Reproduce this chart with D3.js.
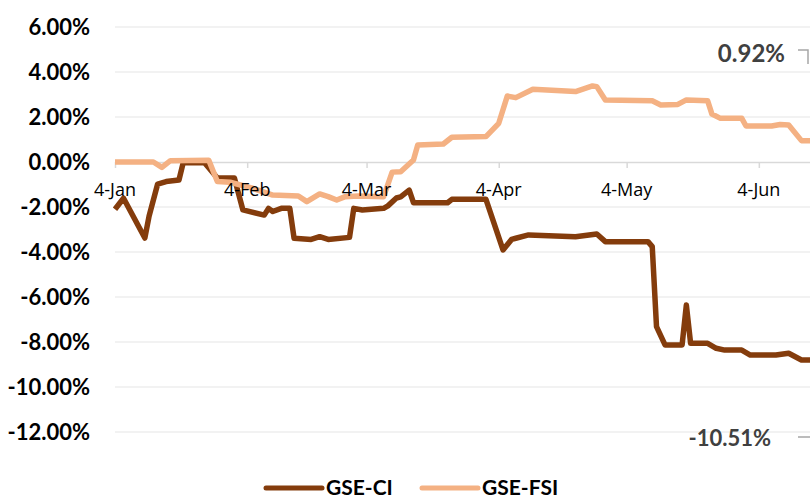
<!DOCTYPE html>
<html>
<head>
<meta charset="utf-8">
<script src="https://cdn.jsdelivr.net/npm/d3@7"></script>
<style>
  body { margin: 0; background: #fff; }
  svg { display: block; }
</style>
</head>
<body>
<svg id="chart" width="810" height="500"></svg>
<script>
// GSE-CI (year to date change, %)
const ciDates = ["2021-01-04","2021-01-06","2021-01-11","2021-01-12","2021-01-14","2021-01-16","2021-01-19","2021-01-20","2021-01-25","2021-01-28","2021-02-01","2021-02-03","2021-02-08","2021-02-09","2021-02-10","2021-02-12","2021-02-14","2021-02-15","2021-02-19","2021-02-21","2021-02-23","2021-02-28","2021-03-01","2021-03-03","2021-03-08","2021-03-09","2021-03-11","2021-03-12","2021-03-14","2021-03-15","2021-03-23","2021-03-24","2021-04-01","2021-04-05","2021-04-07","2021-04-08","2021-04-11","2021-04-22","2021-04-27","2021-04-29","2021-05-09","2021-05-10","2021-05-11","2021-05-13","2021-05-17","2021-05-18","2021-05-19","2021-05-23","2021-05-25","2021-05-27","2021-05-31","2021-06-02","2021-06-08","2021-06-11","2021-06-14","2021-06-16"];
const ciValues = [-2.10,-1.61,-3.38,-2.40,-0.98,-0.87,-0.80,-0.03,-0.03,-0.71,-0.71,-2.13,-2.36,-2.06,-2.20,-2.06,-2.06,-3.39,-3.44,-3.32,-3.44,-3.35,-2.06,-2.13,-2.06,-1.95,-1.60,-1.55,-1.25,-1.81,-1.81,-1.66,-1.66,-3.91,-3.44,-3.39,-3.24,-3.32,-3.20,-3.54,-3.54,-3.76,-7.32,-8.13,-8.13,-6.36,-8.06,-8.06,-8.28,-8.36,-8.36,-8.58,-8.58,-8.50,-8.80,-8.80];

// GSE-FSI
const fsiDates = ["2021-01-04","2021-01-13","2021-01-15","2021-01-17","2021-01-26","2021-01-28","2021-01-31","2021-02-05","2021-02-10","2021-02-16","2021-02-18","2021-02-21","2021-02-23","2021-02-25","2021-02-27","2021-03-02","2021-03-08","2021-03-10","2021-03-12","2021-03-15","2021-03-16","2021-03-22","2021-03-24","2021-04-01","2021-04-04","2021-04-06","2021-04-08","2021-04-12","2021-04-22","2021-04-26","2021-04-27","2021-04-29","2021-05-10","2021-05-12","2021-05-16","2021-05-18","2021-05-23","2021-05-24","2021-05-26","2021-05-31","2021-06-01","2021-06-07","2021-06-09","2021-06-11","2021-06-14","2021-06-16"];
const fsiValues = [0.00,0.00,-0.24,0.06,0.08,-0.87,-0.90,-1.15,-1.47,-1.51,-1.76,-1.42,-1.54,-1.69,-1.54,-1.51,-1.54,-0.45,-0.43,0.09,0.76,0.80,1.10,1.13,1.72,2.93,2.86,3.23,3.13,3.38,3.35,2.76,2.72,2.53,2.56,2.76,2.72,2.13,1.94,1.94,1.60,1.60,1.67,1.64,0.95,0.95];

const yTicks = [6, 4, 2, 0, -2, -4, -6, -8, -10, -12];
const xTickDates = ["2021-01-04","2021-02-04","2021-03-04","2021-04-04","2021-05-04","2021-06-04"];
const xTickLabels = ["4-Jan","4-Feb","4-Mar","4-Apr","4-May","4-Jun"];
const seriesNames = ["GSE-CI", "GSE-FSI"];
const endLabels = ["0.92%", "-10.51%"];

const colors = { ci: "#843C0C", fsi: "#F4B183" };
const parseDate = d3.timeParse("%Y-%m-%d");

const svg = d3.select("#chart");

const xScale = d3.scaleTime()
  .domain([parseDate("2021-01-04"), parseDate("2021-06-16")])
  .range([115, 810]);
const yScale = d3.scaleLinear().domain([-12, 6]).range([432, 27]);

// gridlines
svg.append("g")
  .selectAll("line")
  .data(yTicks.filter((d) => d !== 0))
  .join("line")
  .attr("x1", 115)
  .attr("x2", 810)
  .attr("y1", (d) => yScale(d))
  .attr("y2", (d) => yScale(d))
  .attr("stroke", "#eeeeee")
  .attr("stroke-width", 1.5);

// zero axis line with ticks
const xAxis = d3.axisBottom(xScale)
  .tickValues(xTickDates.map(parseDate))
  .tickFormat("")
  .tickSize(6)
  .tickSizeOuter(0);
const xAxisG = svg.append("g")
  .attr("transform", `translate(0, ${yScale(0)})`)
  .call(xAxis);
xAxisG.select(".domain").attr("stroke", "#d9d9d9").attr("stroke-width", 1.5);
xAxisG.selectAll(".tick line").attr("stroke", "#d9d9d9").attr("stroke-width", 1.5);

// y labels
svg.append("g")
  .selectAll("text")
  .data(yTicks)
  .join("text")
  .attr("x", 90)
  .attr("y", (d) => yScale(d) + 8)
  .attr("text-anchor", "end")
  .style("font-family", "Lato, sans-serif")
  .style("font-weight", "bold")
  .style("font-size", "22px")
  .style("fill", "#000")
  .text((d) => d.toFixed(2) + "%");

// lines
const line = d3.line()
  .x((d) => xScale(d.date))
  .y((d) => yScale(d.value));

const ciData = ciDates.map((d, i) => ({ date: parseDate(d), value: ciValues[i] }));
const fsiData = fsiDates.map((d, i) => ({ date: parseDate(d), value: fsiValues[i] }));

svg.append("path")
  .datum(ciData)
  .attr("fill", "none")
  .attr("stroke", colors.ci)
  .attr("stroke-width", 5.5)
  .attr("stroke-linejoin", "round")
  .attr("d", line);

svg.append("path")
  .datum(fsiData)
  .attr("fill", "none")
  .attr("stroke", colors.fsi)
  .attr("stroke-width", 5.5)
  .attr("stroke-linejoin", "round")
  .attr("d", line);

// x labels
svg.append("g")
  .selectAll("text")
  .data(xTickDates)
  .join("text")
  .attr("x", (d) => xScale(parseDate(d)))
  .attr("y", 196)
  .attr("text-anchor", "middle")
  .style("font-family", "'Open Sans', sans-serif")
  .style("font-size", "18px")
  .style("fill", "#000")
  .text((d, i) => xTickLabels[i]);

// end labels with leader lines
svg.append("text")
  .attr("x", 785)
  .attr("y", 62)
  .attr("text-anchor", "end")
  .style("font-family", "Lato, sans-serif")
  .style("font-weight", "bold")
  .style("font-size", "24px")
  .style("fill", "#404040")
  .text(endLabels[0]);
svg.append("path")
  .attr("d", "M798,50H808V64")
  .attr("fill", "none")
  .attr("stroke", "#a6a6a6")
  .attr("stroke-width", 1.5);

svg.append("text")
  .attr("x", 771)
  .attr("y", 446)
  .attr("text-anchor", "end")
  .style("font-family", "Lato, sans-serif")
  .style("font-weight", "bold")
  .style("font-size", "22px")
  .style("fill", "#404040")
  .text(endLabels[1]);
svg.append("path")
  .attr("d", "M798,437H810")
  .attr("fill", "none")
  .attr("stroke", "#a6a6a6")
  .attr("stroke-width", 1.5);

// legend
const legend = svg.append("g");
const legendItems = [
  { name: seriesNames[0], color: colors.ci, x: 266 },
  { name: seriesNames[1], color: colors.fsi, x: 422 },
];
legendItems.forEach((item) => {
  legend.append("line")
    .attr("x1", item.x)
    .attr("x2", item.x + 56)
    .attr("y1", 488)
    .attr("y2", 488)
    .attr("stroke", item.color)
    .attr("stroke-width", 5)
    .attr("stroke-linecap", "round");
  legend.append("text")
    .attr("x", item.x + 60)
    .attr("y", 495)
    .style("font-family", "Lato, sans-serif")
    .style("font-weight", "bold")
    .style("font-size", "21px")
    .style("fill", "#000")
    .text(item.name);
});
</script>
</body>
</html>
